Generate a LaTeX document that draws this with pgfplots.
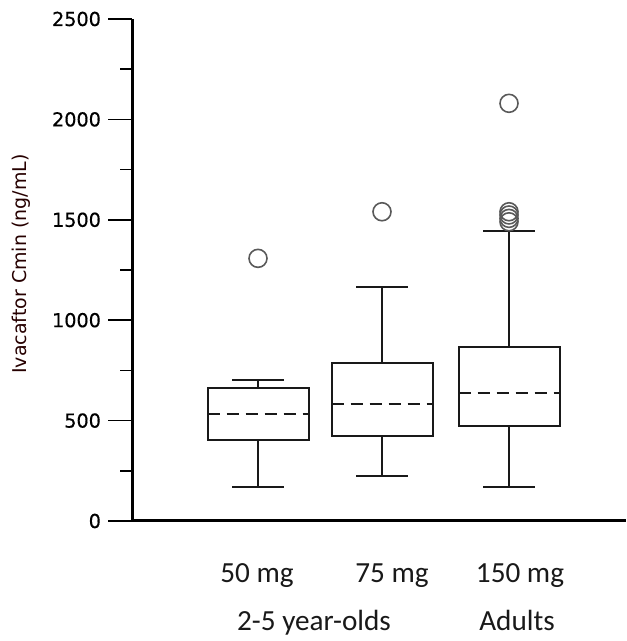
\documentclass[border=0pt]{standalone}
\usepackage{pgfplots}
\pgfplotsset{compat=1.18}
\usepgfplotslibrary{statistics}
\usepackage{fontspec}
\setmainfont{DejaVu Sans}
\newfontfamily\tickfont[FakeBold=0.5]{DejaVu Sans}
\newfontfamily\calfont{Carlito}
\begin{document}
\begin{tikzpicture}
\useasboundingbox (0,0) rectangle (313pt,320.5pt);
\begin{axis}[
  at={(66pt,60pt)}, anchor=south west,
  scale only axis, width=247pt, height=251pt,
  xmin=132, xmax=626, ymin=0, ymax=2500,
  clip=false,
  axis x line=bottom, axis y line=left,
  axis line style={line width=1.5pt, -},
  xtick=\empty,
  ytick={0,500,1000,1500,2000,2500},
  minor y tick num=1,
  tick align=outside,
  major tick length=12pt, minor tick length=6pt,
  every tick/.style={black, line width=0.8pt},
  /pgf/number format/assume math mode=true,
  yticklabel style={font=\tickfont\fontsize{9.6}{11}\selectfont, text=black, /pgf/number format/1000 sep={}},
  boxplot/draw direction=y,
  boxplot/box extend=101,
  boxplot/whisker extend=52,
  boxplot/every median/.style={dash pattern=on 6pt off 3.5pt},
]
\addplot[black!90, line width=1pt, mark=o, mark size=4.5pt,
  mark options={draw=black!65, line width=0.8pt, solid},
  boxplot prepared={draw position=258, lower whisker=171, lower quartile=403,
    median=533, upper quartile=661, upper whisker=702}]
  table[row sep=\\, y index=0] {data\\ 1308\\};
\addplot[black!90, line width=1pt, mark=o, mark size=4.5pt,
  mark options={draw=black!65, line width=0.8pt, solid},
  boxplot prepared={draw position=382, lower whisker=224, lower quartile=423,
    median=583, upper quartile=785, upper whisker=1164}]
  table[row sep=\\, y index=0] {data\\ 1540\\};
\addplot[black!90, line width=1pt, mark=o, mark size=4.5pt,
  mark options={draw=black!65, line width=0.8pt, solid},
  boxplot prepared={draw position=509, lower whisker=171, lower quartile=473,
    median=636, upper quartile=865, upper whisker=1446}]
  table[row sep=\\, y index=0] {data\\ 1490\\ 1507\\ 1524\\ 1540\\ 2080\\};
\node[anchor=base, font=\calfont\fontsize{14.6}{17}\selectfont, text=black!90] at (axis cs:257,-304) {50 mg};
\node[anchor=base, font=\calfont\fontsize{14.6}{17}\selectfont, text=black!90] at (axis cs:392,-304) {75 mg};
\node[anchor=base, font=\calfont\fontsize{14.6}{17}\selectfont, text=black!90] at (axis cs:520,-304) {150 mg};
\node[anchor=base, font=\calfont\fontsize{14.6}{17}\selectfont, text=black!90] at (axis cs:314,-543) {2-5 year-olds};
\node[anchor=base, font=\calfont\fontsize{14.6}{17}\selectfont, text=black!90] at (axis cs:517,-543) {Adults};
\node[rotate=90, anchor=center, font=\fontsize{9.5}{11}\selectfont, text=black!85!red] at (axis cs:21,1280) {Ivacaftor Cmin (ng/mL)};
\end{axis}
\end{tikzpicture}
\end{document}
